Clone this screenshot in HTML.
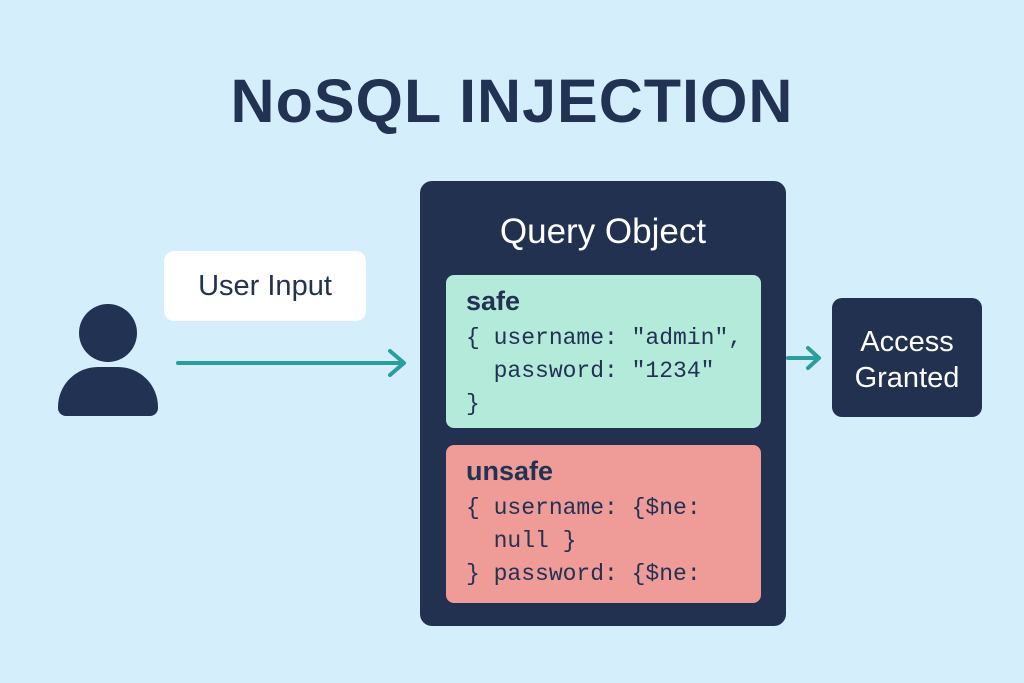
<!DOCTYPE html>
<html><head><style>
body{margin:0;width:1024px;height:683px;background:#d4eefb;position:relative;overflow:hidden;font-family:"Liberation Sans",sans-serif;color:#213252}
.a{position:absolute}
.code{font-family:"Liberation Mono",monospace;font-size:23px;line-height:33px;white-space:pre;color:#213252}
.h{font-weight:bold;font-size:27px;line-height:32px}
</style></head><body>
<div class="a" style="left:0;width:1024px;top:66px;text-align:center;font-size:61px;font-weight:bold;letter-spacing:1px">NoSQL INJECTION</div>
<div class="a" style="left:164px;top:251px;width:202px;height:70px;background:#fff;border-radius:10px;text-align:center;line-height:70px;font-size:29px">User Input</div>
<div class="a" style="left:79px;top:304px;width:58px;height:58px;border-radius:50%;background:#213252"></div>
<div class="a" style="left:58px;top:367px;width:100px;height:49px;border-radius:40px 40px 8px 8px;background:#213252"></div>
<svg class="a" style="left:0;top:0" width="1024" height="683">
<line x1="178" y1="363" x2="402" y2="363" stroke="#2a9d9c" stroke-width="4" stroke-linecap="round"/>
<polyline points="390,351 404,363 390,375" fill="none" stroke="#2a9d9c" stroke-width="4" stroke-linecap="round" stroke-linejoin="round"/>
<line x1="788" y1="358" x2="818" y2="358" stroke="#2a9d9c" stroke-width="4" stroke-linecap="round"/>
<polyline points="808,348 819,358 808,368" fill="none" stroke="#2a9d9c" stroke-width="4" stroke-linecap="round" stroke-linejoin="round"/>
</svg>
<div class="a" style="left:420px;top:181px;width:366px;height:445px;background:#22314f;border-radius:12px"></div>
<div class="a" style="left:420px;top:212px;width:366px;text-align:center;color:#fff;font-size:35px">Query Object</div>
<div class="a" style="left:446px;top:275px;width:315px;height:153px;background:#b3ead9;border-radius:8px">
<div class="a h" style="left:20px;top:10px">safe</div>
<div class="a code" style="left:20px;top:47px">{ username: "admin",
  password: "1234"
}</div></div>
<div class="a" style="left:446px;top:445px;width:315px;height:158px;background:#ef9b97;border-radius:8px">
<div class="a h" style="left:20px;top:10px">unsafe</div>
<div class="a code" style="left:20px;top:47px">{ username: {$ne:
  null }
} password: {$ne:</div></div>
<div class="a" style="left:832px;top:298px;width:150px;height:119px;background:#22314f;border-radius:10px;color:#fff;font-size:29px;text-align:center;line-height:36px;padding-top:26px;box-sizing:border-box">Access<br>Granted</div>
</body></html>
